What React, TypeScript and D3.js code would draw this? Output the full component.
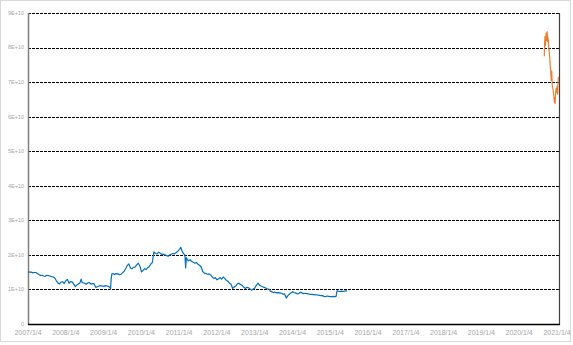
import React from "react";
import * as d3 from "d3";

// values in units of 1e9
const blueDates = [
  "2007-01-04","2007-01-20","2007-02-05","2007-02-20","2007-03-05","2007-03-22","2007-04-05","2007-04-20","2007-05-05","2007-05-20",
  "2007-06-05","2007-06-20","2007-07-05","2007-07-20","2007-08-05","2007-08-20","2007-09-05","2007-09-20","2007-10-05","2007-10-20",
  "2007-11-05","2007-11-20","2007-12-05","2007-12-20","2008-01-05","2008-01-20","2008-02-05","2008-02-20","2008-03-05","2008-03-20",
  "2008-04-05","2008-04-20","2008-05-05","2008-05-20","2008-06-01","2008-06-10","2008-06-20","2008-07-05","2008-07-20","2008-08-05",
  "2008-08-20","2008-09-05","2008-09-20","2008-10-05","2008-10-20","2008-11-05","2008-11-20","2008-12-05","2008-12-20","2009-01-05",
  "2009-01-20","2009-02-05","2009-02-20","2009-03-05","2009-03-12","2009-03-18","2009-03-25","2009-04-05","2009-04-20","2009-05-05",
  "2009-05-20","2009-06-05","2009-06-20","2009-07-05","2009-07-20","2009-08-05","2009-08-20","2009-09-05","2009-09-20","2009-10-05",
  "2009-10-20","2009-11-05","2009-11-20","2009-12-05","2009-12-20","2010-01-05","2010-01-20","2010-02-05","2010-02-20","2010-03-05",
  "2010-03-20","2010-04-05","2010-04-20","2010-05-05","2010-05-20","2010-06-05","2010-06-20","2010-07-05","2010-07-20","2010-08-05",
  "2010-08-20","2010-09-05","2010-09-20","2010-10-05","2010-10-20","2010-11-05","2010-11-20","2010-12-05","2010-12-20","2011-01-05",
  "2011-01-20","2011-02-05","2011-02-20","2011-03-01","2011-03-08","2011-03-15","2011-03-25","2011-04-05","2011-04-20","2011-05-05",
  "2011-05-20","2011-06-05","2011-06-20","2011-07-05","2011-07-20","2011-08-05","2011-08-20","2011-09-05","2011-09-20","2011-10-05",
  "2011-10-20","2011-11-05","2011-11-20","2011-12-05","2011-12-20","2012-01-05","2012-01-20","2012-02-05","2012-02-20","2012-03-05",
  "2012-03-20","2012-04-05","2012-04-20","2012-05-05","2012-05-20","2012-06-05","2012-06-20","2012-07-05","2012-07-20","2012-08-05",
  "2012-08-20","2012-09-05","2012-09-20","2012-10-05","2012-10-20","2012-11-05","2012-11-20","2012-12-05","2012-12-20","2013-01-05",
  "2013-01-20","2013-02-05","2013-02-20","2013-03-05","2013-03-20","2013-04-05","2013-04-20","2013-05-05","2013-05-20","2013-06-05",
  "2013-06-20","2013-07-05","2013-07-20","2013-08-05","2013-08-20","2013-09-05","2013-09-20","2013-10-05","2013-10-20","2013-11-05",
  "2013-11-20","2013-12-05","2013-12-20","2014-01-05","2014-01-20","2014-02-05","2014-02-20","2014-03-05","2014-03-20","2014-04-05",
  "2014-04-20","2014-05-05","2014-05-20","2014-06-05","2014-06-20","2014-07-05","2014-07-20","2014-08-05","2014-08-20","2014-09-05",
  "2014-09-20","2014-10-05","2014-10-20","2014-11-05","2014-11-20","2014-12-05","2014-12-20","2015-01-05","2015-01-20","2015-02-05",
  "2015-02-20","2015-03-01","2015-03-10","2015-03-20","2015-04-05","2015-04-20","2015-05-05","2015-05-20","2015-06-05","2015-06-15"
];
const blueValues = [
  15.1,15.0,15.0,14.8,14.9,14.9,14.6,14.3,14.0,14.1,
  13.9,13.8,14.1,14.0,13.9,13.7,13.6,13.3,12.5,11.9,
  11.6,12.1,12.3,11.7,12.6,12.9,11.8,12.3,12.2,11.6,
  10.8,11.3,11.6,11.9,13.0,12.0,11.9,11.8,11.5,11.9,
  12.0,11.5,11.7,11.6,10.6,10.8,11.0,11.1,11.0,10.9,
  11.1,11.0,10.9,10.6,10.1,13.0,14.5,14.6,14.3,14.6,
  14.5,14.3,14.4,14.8,15.2,16.0,16.9,17.4,16.2,16.0,
  16.4,16.5,17.1,17.6,16.8,15.1,15.5,16.0,15.8,16.3,
  16.6,17.3,17.8,20.9,20.4,20.3,20.8,20.5,20.1,20.2,
  20.0,19.8,19.6,20.0,20.2,20.4,20.3,20.6,21.0,21.5,
  22.2,20.8,20.2,19.9,16.2,19.2,18.6,18.3,18.6,18.1,
  17.9,17.6,17.8,17.3,17.0,16.5,15.2,14.7,14.6,14.4,
  14.5,14.2,13.6,13.2,13.4,12.8,13.1,13.4,13.0,13.6,
  13.2,12.6,12.4,11.8,11.5,10.3,10.7,11.0,11.6,11.8,
  11.4,11.2,10.6,10.3,10.6,10.5,10.1,9.8,10.1,10.4,
  11.2,11.8,11.2,11.0,10.8,10.6,10.4,10.2,10.1,9.5,
  9.3,9.1,9.2,9.0,9.1,9.0,8.9,8.6,8.7,7.5,
  8.2,8.6,9.0,9.3,9.1,9.0,8.7,8.8,9.2,9.0,
  8.8,8.9,8.8,8.7,8.6,8.6,8.5,8.5,8.4,8.4,
  8.3,8.2,8.2,8.0,7.9,8.1,8.0,7.9,7.9,8.0,
  7.9,8.0,9.6,9.5,9.4,9.5,9.4,9.5,9.6,9.6
];

const orangeDates = [
  "2020-09-03","2020-09-07","2020-09-10","2020-09-14","2020-09-17","2020-09-21","2020-09-24","2020-09-28","2020-10-01","2020-10-05",
  "2020-10-08","2020-10-12","2020-10-16","2020-10-20","2020-10-25","2020-10-30","2020-11-04","2020-11-09","2020-11-14","2020-11-19",
  "2020-11-24","2020-11-29","2020-12-04","2020-12-09","2020-12-13","2020-12-17","2020-12-21","2020-12-26","2020-12-31","2021-01-05",
  "2021-01-10","2021-01-15","2021-01-19"
];
const orangeValues = [
  77.5,81.8,83.2,80.6,82.5,84.2,82.0,83.3,84.6,81.8,
  83.0,82.0,80.2,79.0,77.5,74.8,73.5,70.5,73.2,69.0,
  68.3,67.5,66.0,64.2,65.5,63.8,66.5,68.2,67.0,68.8,
  66.5,70.5,71.5
];

const yTicks = [0, 10, 20, 30, 40, 50, 60, 70, 80, 90];
const yTickLabels = ["0", "1E+10", "2E+10", "3E+10", "4E+10", "5E+10", "6E+10", "7E+10", "8E+10", "9E+10"];
const xTickLabels = ["2007/1/4","2008/1/4","2009/1/4","2010/1/4","2011/1/4","2012/1/4","2013/1/4","2014/1/4","2015/1/4","2016/1/4","2017/1/4","2018/1/4","2019/1/4","2020/1/4","2021/1/4"];

const W = 573, H = 345;
const L = 28, R = 559, T = 13, B = 324;

export default function App() {
  const parse = d3.timeParse("%Y-%m-%d");
  const parseTick = d3.timeParse("%Y/%m/%d");
  const x = d3.scaleTime().domain([parse("2007-01-04")!, parse("2021-01-04")!]).range([L, 557]);
  const y = d3.scaleLinear().domain([0, 90]).range([B, T]);
  const line = d3.line<[Date, number]>().x(d => x(d[0])).y(d => y(d[1]));
  const blue: [Date, number][] = blueDates.map((d, i) => [parse(d)!, blueValues[i]]);
  const orange: [Date, number][] = orangeDates.map((d, i) => [parse(d)!, orangeValues[i]]);
  const font = "'Liberation Sans', Arial, sans-serif";
  const labelColor = "#a6a6a6";

  return (
    <svg width={W} height={H} style={{ position: "absolute", left: 0, top: 0, background: "#fff" }}>
      <rect x={0.5} y={0.5} width={570} height={341} fill="#fff" stroke="#d9d9d9" strokeWidth={1} />
      {yTicks.filter(t => t > 0).map(t => (
        <line key={t} x1={L} x2={R} y1={Math.round(y(t)) + 0.5} y2={Math.round(y(t)) + 0.5}
          stroke="#000" strokeWidth={1} strokeDasharray="3,1" />
      ))}
      <line x1={L + 0.5} x2={L + 0.5} y1={T} y2={B + 1} stroke="#7f7f7f" strokeWidth={1.5} />
      <line x1={R + 0.5} x2={R + 0.5} y1={T} y2={B + 1} stroke="#404040" strokeWidth={1.2} />
      <line x1={L} x2={R + 1} y1={B + 0.5} y2={B + 0.5} stroke="#000" strokeWidth={1.5} />
      <path d={line(blue)!} fill="none" stroke="#0070c0" strokeWidth={1.2} strokeLinejoin="round" />
      <path d={line(orange)!} fill="none" stroke="#ed7d31" strokeWidth={1.2} strokeLinejoin="round" />
      {yTicks.map((t, i) => (
        <text key={t} x={24} y={y(t)} dy="0.35em" textAnchor="end" fontSize={5.5} fill={labelColor} fontFamily={font}>
          {yTickLabels[i]}
        </text>
      ))}
      {xTickLabels.map(lbl => (
        <text key={lbl} x={x(parseTick(lbl)!)} y={334.5} textAnchor="middle" fontSize={7} fill={labelColor} fontFamily={font}>
          {lbl}
        </text>
      ))}
    </svg>
  );
}
